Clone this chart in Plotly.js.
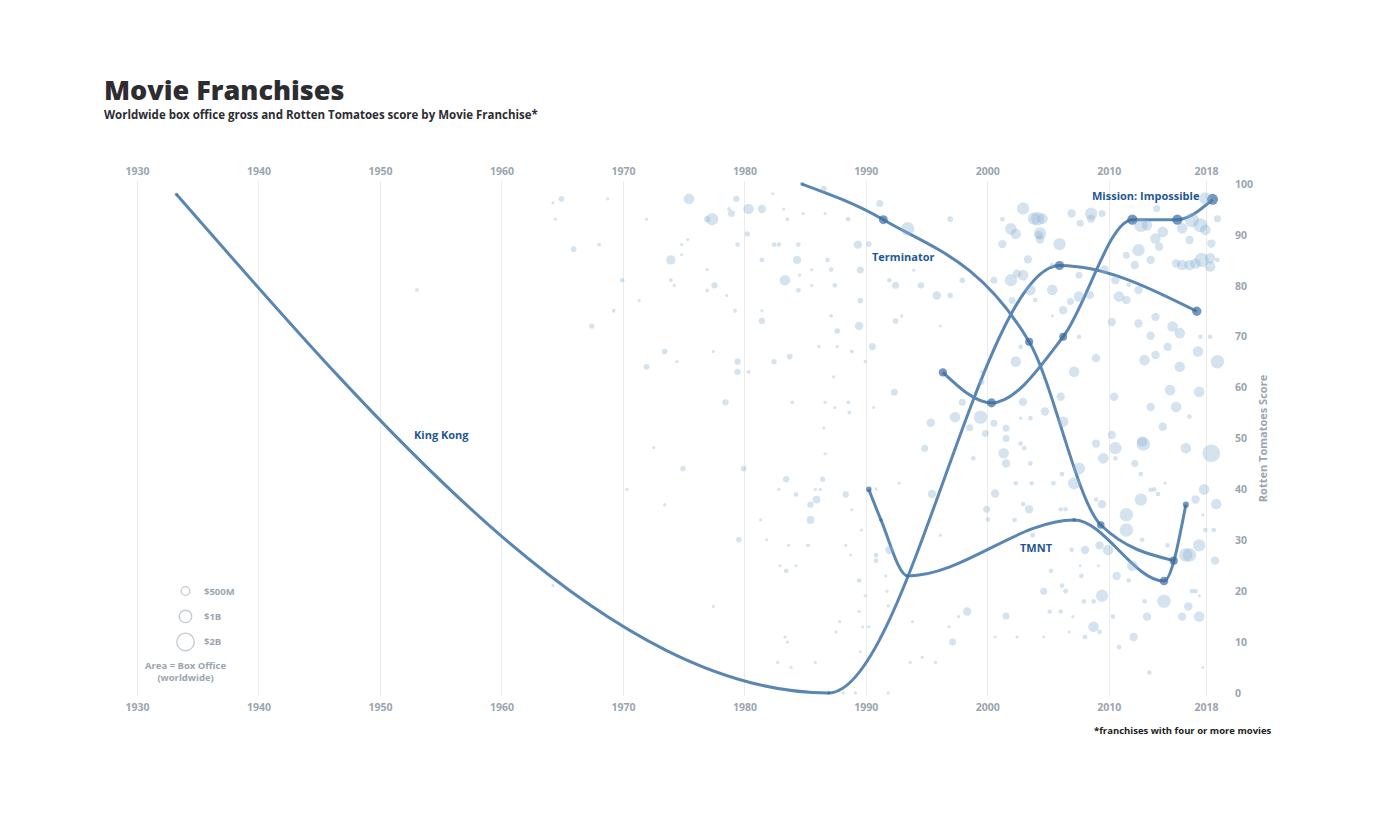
<!DOCTYPE html>
<html>
<head>
<meta charset="utf-8">
<script src="https://cdn.plot.ly/plotly-3.0.1.min.js"></script>
<style>
  html, body { margin: 0; padding: 0; background: #ffffff; }
  #chart { width: 1383px; height: 831px; }
</style>
</head>
<body>
<div id="chart"></div>
<script>
// ---------- axis ticks ----------
const yearTicks = [1930, 1940, 1950, 1960, 1970, 1980, 1990, 2000, 2010, 2018];
const yearTickText = ['1930', '1940', '1950', '1960', '1970', '1980', '1990', '2000', '2010', '2018'];
const scoreTicks = [0, 10, 20, 30, 40, 50, 60, 70, 80, 90, 100];

// ---------- all franchise movies (year, Rotten Tomatoes score, worldwide gross $M) ----------
const movieYear = [
  1964.2,1964.9,1964.4,1965.9,1968.7,1968.0,1969.9,1969.2,1967.4,1971.9,
  1971.3,1975.4,1979.3,1980.3,1981.4,1978.7,1978.9,1977.3,1976.9,1982.3,
  1983.2,1983.5,1984.8,1986.6,1988.5,1986.5,1980.2,1975.3,1974.8,1979.4,
  1982.4,1982.8,1984.4,1974.8,1973.9,1981.4,1984.3,1986.8,1976.9,1985.5,
  1987.1,1973.9,1974.2,1977.5,1976.9,1983.3,1984.5,1985.5,1987.4,1984.4,
  1978.5,1979.2,1981.4,1981.4,1987.1,1987.6,1973.4,1974.4,1971.9,1977.4,
  1979.4,1979.4,1980.3,1982.4,1983.7,1986.1,1987.6,1988.8,1987.3,1978.4,
  1983.9,1986.6,1987.4,1988.5,1988.6,1986.5,1972.5,1989.3,1989.5,1989.5,
  1989.4,1953.0,1964.2,1986.6,1974.9,1979.9,1983.4,1986.4,1982.8,1984.2,
  1985.8,1986.2,1988.3,1985.9,1985.4,1988.8,1970.3,1973.4,1985.4,1981.3,
  1979.5,1981.8,1983.6,1985.2,1988.3,1988.7,1982.9,1983.4,1984.2,1977.4,
  1987.8,1987.5,1983.3,1983.5,1982.7,1983.8,1985.8,1988.1,1989.1,1991.1,
  1993.4,1996.9,1990.2,1993.9,1991.9,1992.4,1994.5,1995.8,1996.9,1997.9,
  1992.9,1992.4,1996.1,1990.5,1989.9,1992.3,1990.6,1995.3,1994.8,1997.3,
  1997.9,1999.4,1998.5,1999.8,1999.5,1999.5,2000.5,2001.5,2001.5,2002.7,
  2003.5,2002.9,2002.3,2002.7,2002.0,2003.5,2003.9,2000.5,2001.9,2002.4,
  2002.9,2003.3,2001.2,2001.2,2001.9,2002.3,2002.9,2003.8,2004.2,2004.1,
  2004.5,2004.3,2004.3,2005.9,2006.9,2007.6,2008.5,2008.5,2009.4,2005.3,
  2005.3,2007.5,2007.5,2008.4,2006.8,2006.2,2005.3,2009.6,2010.5,2011.4,
  2012.4,2012.1,2011.6,2012.4,2010.8,2011.4,2013.4,2014.1,2013.8,2014.4,
  2012.6,2013.1,2013.9,2015.5,2016.0,2016.6,2017.1,2017.6,2018.3,2018.3,
  2018.9,2018.4,2016.6,2016.0,2016.8,2017.5,2017.9,2018.9,2017.9,2013.8,
  2015.2,2015.8,2013.4,2017.5,2018.3,2017.3,2018.9,2007.5,2010.2,2012.4,
  2012.9,2013.8,2014.8,2015.8,2017.4,2015.0,2015.5,2014.4,2013.4,2016.6,
  2010.4,2008.9,2007.1,2006.0,2004.7,2006.2,2010.2,2012.7,2008.9,1998.8,
  2001.3,2001.5,2002.7,2003.0,2003.5,1990.8,1992.7,1995.4,1989.6,1990.8,
  1990.8,1991.9,1996.1,1989.4,1991.6,1991.7,1989.9,1991.8,1989.4,1989.7,
  1990.2,1993.8,1997.6,1998.3,1996.8,1997.1,1989.5,1993.6,1994.6,1995.7,
  1991.8,2000.6,1999.9,2000.0,2002.2,2002.3,2003.6,2002.9,2003.4,2001.5,
  2000.6,2002.4,2003.7,2010.5,2012.8,2016.3,2018.4,2009.5,2010.5,2012.1,
  2007.5,2006.1,2012.6,2007.1,2005.4,2008.9,2009.4,2012.6,2013.4,2013.7,
  2014.0,2014.6,2017.1,2017.8,2018.8,2017.7,2017.9,2018.6,2006.0,2006.4,
  2011.4,2011.4,2012.7,2014.8,2017.4,2016.3,2016.6,2018.7,2006.9,2008.0,
  2009.2,2009.9,2007.6,2009.1,2011.9,2005.2,2007.7,2010.6,2011.6,2006.1,
  2004.6,2006.4,2009.4,2008.7,2007.9,2012.9,2014.5,2016.8,2017.1,2017.4,
  2016.5,2016.0,2017.4,2005.1,2006.0,2007.0,2010.3,2013.1,2008.7,2009.2,
  2006.7,2004.6,2008.0,2012.0,2010.8,2013.3,2017.7
];
const movieScore = [
  96.3,97.1,93.1,87.2,97.1,88.1,81.1,75.1,72.1,93.1,
  77.1,97.1,97.1,95.1,95.1,95.1,94.2,93.1,93.1,98.1,
  95.1,93.1,94.2,94.2,93.1,99.1,90.2,89.1,88.1,88.1,
  88.1,88.1,88.1,86.1,85.1,85.1,85.1,85.1,83.2,83.2,
  83.2,81.1,80.1,80.1,79.1,81.1,82.1,80.1,80.1,79.1,
  78.1,75.1,75.1,73.1,74.1,71.1,67.1,65.1,64.1,67.1,
  65.1,63.1,63.1,65.1,66.1,68.1,68.1,67.1,62.1,57.1,
  57.1,57.1,56.1,57.1,55.1,52.1,48.2,88.1,83.1,77.1,
  72.1,79.2,21.1,47.0,44.1,44.1,42.0,42.0,40.0,39.0,
  40.0,40.0,39.0,38.0,37.0,36.0,40.0,37.0,34.0,34.0,
  30.1,30.1,29.0,29.0,29.0,27.1,25.0,24.0,25.0,17.0,
  14.0,12.0,11.0,10.0,6.0,5.0,6.0,0.0,0.0,96.2,
  91.2,93.1,88.2,83.1,81.1,80.1,80.1,78.1,78.1,81.1,
  74.1,73.1,72.1,68.1,65.1,59.1,56.1,53.1,48.1,54.2,
  57.1,54.2,52.1,51.0,61.1,63.1,53.0,52.0,50.0,54.0,
  54.0,57.2,65.1,68.0,77.1,79.2,77.2,81.1,81.1,82.4,
  82.1,85.2,88.2,93.1,91.2,90.2,95.2,93.2,90.0,93.2,
  93.2,90.3,89.1,88.2,94.2,92.3,94.2,93.2,94.2,84.1,
  79.2,82.1,77.9,78.2,76.9,75.2,74.1,83.2,81.1,86.0,
  87.0,84.1,80.2,79.2,77.9,77.2,85.1,87.7,89.3,90.6,
  91.9,91.9,95.2,84.4,84.1,84.1,84.4,85.1,83.8,85.4,
  85.1,88.3,89.0,91.3,92.9,91.9,91.0,93.2,97.2,73.9,
  72.0,70.7,70.2,70.0,70.0,67.1,65.1,70.0,72.9,72.6,
  65.4,66.4,68.0,64.1,59.2,59.5,56.2,52.3,56.2,54.3,
  58.2,65.8,63.1,58.2,55.3,53.3,50.7,49.4,49.0,46.1,
  47.1,45.1,49.0,48.1,45.1,40.1,41.2,39.1,32.0,27.1,
  26.0,28.1,31.0,22.1,23.0,20.0,19.1,17.1,16.0,13.0,
  13.0,14.0,15.0,16.0,13.0,10.0,8.1,6.0,7.0,6.0,
  0.0,39.2,36.1,34.1,34.0,41.2,41.2,37.1,36.1,15.1,
  11.0,11.0,31.0,48.1,48.9,48.1,47.1,46.1,46.1,45.1,
  44.1,43.0,43.0,41.2,41.2,38.0,37.1,38.0,39.9,40.0,
  39.1,41.2,38.0,40.0,37.1,35.0,32.0,32.0,36.1,36.1,
  35.0,32.0,30.1,29.0,29.0,27.1,27.1,26.0,28.1,28.1,
  29.0,28.1,25.0,25.0,25.0,24.0,23.0,23.0,22.1,21.1,
  20.0,20.0,19.1,18.0,18.0,18.0,18.0,20.0,20.0,19.1,
  17.0,15.0,15.0,16.0,16.0,15.0,15.0,15.0,13.0,12.0,
  12.0,11.0,11.0,11.0,9.0,4.0,5.0
];
const movieGross = [
  55,175,55,175,55,80,120,80,150,55,
  55,615,220,615,390,80,270,830,220,55,
  55,80,55,55,120,175,150,55,55,120,
  120,120,120,55,470,120,390,120,55,55,
  120,80,55,220,80,615,55,55,120,120,
  55,80,55,220,80,175,175,55,175,55,
  220,220,80,150,175,55,55,80,55,220,
  80,55,55,80,80,55,55,390,270,175,
  390,80,55,55,150,175,220,150,55,120,
  55,55,220,330,220,55,55,55,330,55,
  175,55,55,80,55,55,55,120,55,55,
  55,55,55,55,55,55,55,55,55,270,
  1000,175,175,55,120,270,220,390,175,175,
  55,175,55,270,55,270,55,390,270,615,
  270,1000,270,270,175,55,270,270,270,55,
  120,390,615,120,270,615,120,270,830,390,
  615,390,390,120,750,615,830,830,390,1000,
  615,830,390,830,390,270,830,390,270,120,
  615,270,615,390,270,390,55,390,390,270,
  830,390,120,390,615,390,390,390,615,615,
  1000,615,270,390,615,615,615,1100,615,615,
  120,390,390,615,1100,1100,615,270,830,390,
  615,615,390,120,120,615,1000,120,390,390,
  615,390,390,615,615,615,615,390,390,120,
  390,390,615,390,390,615,390,615,390,120,
  615,390,120,120,120,55,55,390,55,120,
  120,390,55,120,55,55,55,55,55,55,
  55,55,55,390,55,270,55,55,55,55,
  55,390,270,120,120,120,120,120,390,270,
  55,55,120,830,1000,615,1700,615,120,270,
  830,120,120,830,120,120,390,830,120,120,
  120,55,390,615,615,55,120,120,120,120,
  1000,1000,120,120,830,1000,1000,390,120,390,
  390,615,55,55,615,120,120,390,120,120,
  270,120,830,120,120,120,1000,120,120,55,
  390,390,615,120,120,55,120,390,615,120,
  55,55,120,390,120,120,55
];

// ---------- highlighted franchises ----------
const kingKongYear  = [1933.2, 1986.9, 2005.9, 2017.2];
const kingKongScore = [98, 0, 84, 75];
const kingKongGross = [10, 5, 550, 566];

const terminatorYear  = [1984.7, 1991.4, 2003.4, 2009.3, 2015.3];
const terminatorScore = [100, 93, 69, 33, 26];
const terminatorGross = [78, 520, 433, 371, 440];

const tmntYear  = [1990.2, 1991.2, 1993.4, 2007.1, 2014.5, 2016.3];
const tmntScore = [40, 34, 23, 34, 22, 37];
const tmntGross = [202, 78, 42, 95, 493, 245];

const missionYear  = [1996.3, 2000.3, 2006.2, 2011.9, 2015.6, 2018.5];
const missionScore = [63, 57, 70, 93, 93, 97];
const missionGross = [457, 546, 398, 694, 682, 791];

const franchiseNames = ['King Kong', 'Terminator', 'TMNT', 'Mission: Impossible'];
const franchiseLabelYear  = [1955.0, 1993.0, 2004.0, 2013.0];
const franchiseLabelScore = [50.7, 85.7, 28.6, 97.8];

// ---------- size legend ----------
const legendGross  = [500, 1000, 2000];
const legendLabels = ['$500M', '$1B', '$2B'];

// ---------- styling ----------
const FONT = 'Open Sans, Lato, sans-serif';
const greyText = '#9aa5b0';
const lineColor = '#5a86b4';
const dotColor = '#3b6b9f';
const labelColor = '#1f5796';
const sizeRef = 13;       // legend + franchise dots
const movieSizeRef = 11;  // background movie bubbles

// plot geometry (pixels): score 0 at y=693, 100 at y=184; year 1930 at x=137.5, 2018 at x=1206.5
const PL = 120, PR = 1225;
const Y0 = 693, Y100 = 184, YPAD = 0.6;
const pxPerScore = (Y0 - Y100) / 100;
const PT = Y100 - YPAD * pxPerScore, PB = Y0 + YPAD * pxPerScore;
const pxX = (px) => (px - PL) / (PR - PL);
const pxY = (py) => (PB - py) / (PB - PT);
const yrPerPx = 88 / (1206.5 - 137.5);
const xRange = [1930 - (137.5 - PL) * yrPerPx, 2018 + (PR - 1206.5) * yrPerPx];

// monotone-x cubic curve through the franchise points (same curve family as the original)
function monotonePath(xs, ys) {
  const n = xs.length, t = new Array(n);
  const sg = (v) => (v < 0 ? -1 : 1);
  for (let i = 1; i < n - 1; i++) {
    const h0 = xs[i] - xs[i - 1], h1 = xs[i + 1] - xs[i];
    const s0 = (ys[i] - ys[i - 1]) / h0, s1 = (ys[i + 1] - ys[i]) / h1;
    const p = (s0 * h1 + s1 * h0) / (h0 + h1);
    t[i] = (sg(s0) + sg(s1)) * Math.min(Math.abs(s0), Math.abs(s1), 0.5 * Math.abs(p)) || 0;
  }
  t[0] = (3 * (ys[1] - ys[0]) / (xs[1] - xs[0]) - t[1]) / 2;
  t[n - 1] = (3 * (ys[n - 1] - ys[n - 2]) / (xs[n - 1] - xs[n - 2]) - t[n - 2]) / 2;
  let d = 'M' + xs[0] + ',' + ys[0];
  for (let i = 0; i < n - 1; i++) {
    const dx = (xs[i + 1] - xs[i]) / 3;
    d += ' C' + (xs[i] + dx) + ',' + (ys[i] + dx * t[i]) + ' ' +
         (xs[i + 1] - dx) + ',' + (ys[i + 1] - dx * t[i + 1]) + ' ' + xs[i + 1] + ',' + ys[i + 1];
  }
  return d;
}

const franchiseSeries = [
  [kingKongYear, kingKongScore, kingKongGross],
  [terminatorYear, terminatorScore, terminatorGross],
  [tmntYear, tmntScore, tmntGross],
  [missionYear, missionScore, missionGross]
];

const shapes = franchiseSeries.map(([x, y]) => ({
  type: 'path', xref: 'x', yref: 'y', path: monotonePath(x, y),
  line: { color: lineColor, width: 3 }, fillcolor: 'rgba(0,0,0,0)', layer: 'between'
}));

const traces = franchiseSeries.map(([x, y, g]) => ({
  type: 'scatter', mode: 'markers', x: x, y: y,
  marker: { size: g, sizemode: 'area', sizeref: sizeRef, sizemin: 1.6, color: dotColor, line: { width: 0 } },
  cliponaxis: false, hoverinfo: 'skip', showlegend: false
}));

traces.push({
  type: 'scatter', mode: 'markers', x: movieYear, y: movieScore,
  marker: { size: movieGross, sizemode: 'area', sizeref: movieSizeRef, sizemin: 1.4,
            color: 'rgba(140,178,212,0.52)', line: { width: 0 } },
  cliponaxis: false, hoverinfo: 'skip', showlegend: false
});
// dummy trace so the top year axis is drawn
traces.push({ type: 'scatter', mode: 'markers', x: [1930], y: [null], xaxis: 'x2', yaxis: 'y',
  hoverinfo: 'skip', showlegend: false });
// size legend
traces.push({
  type: 'scatter', mode: 'markers', xaxis: 'x3', yaxis: 'y3',
  x: [185.5, 185.5, 185.5], y: [591, 616.5, 642],
  marker: { size: legendGross, sizemode: 'area', sizeref: sizeRef, color: '#ffffff',
            line: { color: '#aab6c1', width: 1.3 } },
  cliponaxis: false, hoverinfo: 'skip', showlegend: false
});

const tickFont = { family: FONT, size: 10.5, color: greyText, weight: 700 };

const annotations = [];
annotations.push({ xref: 'paper', yref: 'paper', x: pxX(102), y: pxY(89.5), xanchor: 'left', yanchor: 'middle',
  text: 'Movie Franchises', showarrow: false, font: { family: FONT, size: 27, color: '#2c2c31', weight: 800 } });
annotations.push({ xref: 'paper', yref: 'paper', x: pxX(102), y: pxY(114.5), xanchor: 'left', yanchor: 'middle',
  text: 'Worldwide box office gross and Rotten Tomatoes score by Movie Franchise*', showarrow: false,
  font: { family: FONT, size: 11.5, color: '#2c2c31', weight: 700 } });
annotations.push({ xref: 'paper', yref: 'paper', x: pxX(1274), y: pxY(731), xanchor: 'right', yanchor: 'middle',
  text: '*franchises with four or more movies', showarrow: false,
  font: { family: FONT, size: 9.5, color: '#222222', weight: 700 } });
franchiseNames.forEach((name, i) => {
  annotations.push({ xref: 'x', yref: 'y', x: franchiseLabelYear[i], y: franchiseLabelScore[i],
    xanchor: 'center', yanchor: 'middle', text: name, showarrow: false,
    font: { family: FONT, size: 11, color: labelColor, weight: 700 } });
});
legendLabels.forEach((lab, i) => {
  annotations.push({ xref: 'x3', yref: 'y3', x: 202, y: [591.5, 616.5, 642][i], xanchor: 'left', yanchor: 'middle',
    text: lab, showarrow: false, font: { family: FONT, size: 9.5, color: greyText, weight: 700 } });
});
annotations.push({ xref: 'x3', yref: 'y3', x: 185.5, y: 671.5, xanchor: 'center', yanchor: 'middle',
  text: 'Area = Box Office<br>(worldwide)', showarrow: false, align: 'center',
  font: { family: FONT, size: 9.5, color: greyText, weight: 700 } });

const legDomX = 0.15, legDomY = 0.25;
const layout = {
  width: 1383, height: 831,
  paper_bgcolor: '#ffffff', plot_bgcolor: 'rgba(0,0,0,0)',
  margin: { l: PL, r: 1383 - PR, t: PT, b: 831 - PB, pad: 0 },
  showlegend: false,
  font: { family: FONT },
  xaxis: {
    range: xRange, domain: [0, 1], anchor: 'y',
    tickmode: 'array', tickvals: yearTicks, ticktext: yearTickText,
    showgrid: true, gridcolor: '#ebebeb', gridwidth: 1,
    zeroline: false, showline: false, ticks: '', ticklabelstandoff: 3,
    tickfont: tickFont, fixedrange: true
  },
  xaxis2: {
    range: xRange, overlaying: 'x', side: 'top', anchor: 'y',
    tickmode: 'array', tickvals: yearTicks, ticktext: yearTickText,
    showgrid: false, zeroline: false, showline: false, ticks: '', ticklabelstandoff: 3,
    tickfont: tickFont, fixedrange: true
  },
  yaxis: {
    range: [-YPAD, 100 + YPAD], side: 'right', anchor: 'x',
    tickmode: 'array', tickvals: scoreTicks,
    showgrid: false, zeroline: false, showline: false, ticks: '', ticklabelstandoff: 9,
    tickfont: tickFont, fixedrange: true,
    title: { text: 'Rotten Tomatoes Score', standoff: 7,
             font: { family: FONT, size: 11, color: greyText, weight: 700 } }
  },
  xaxis3: { domain: [0, legDomX], range: [PL, PL + legDomX * (PR - PL)], anchor: 'y3', visible: false, fixedrange: true },
  yaxis3: { domain: [0, legDomY], range: [PB, PB - legDomY * (PB - PT)], anchor: 'x3', visible: false, fixedrange: true },
  shapes: shapes,
  annotations: annotations
};

Plotly.newPlot('chart', traces, layout, { displayModeBar: false, staticPlot: true });
</script>
</body>
</html>
